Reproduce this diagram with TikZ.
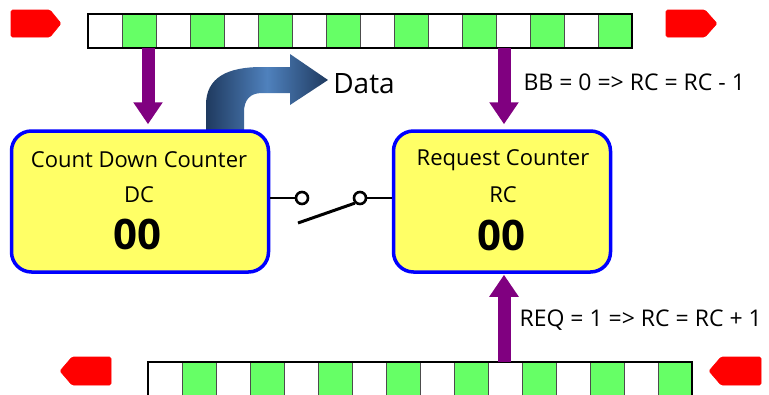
\documentclass[tikz,border=0pt]{standalone}
\usepackage{fontspec}
\setmainfont{Open Sans}
\usetikzlibrary{arrows.meta}
\definecolor{cellgreen}{HTML}{66FF66}
\definecolor{boxyellow}{HTML}{FFFF66}
\definecolor{boxblue}{HTML}{0000FF}
\definecolor{arrpurple}{HTML}{800080}
\definecolor{flagred}{HTML}{FF0000}
\definecolor{datadark}{HTML}{1F3A5F}
\definecolor{datalight}{HTML}{4F81BD}
\tikzset{
  counterbox/.style={draw=boxblue, fill=boxyellow, line width=3.5pt, rounded corners=20pt, inner sep=0pt},
  bartxt/.style={font=\fontsize{22}{26}\selectfont},
  bigtxt/.style={font=\fontsize{42}{46}\selectfont\bfseries},
  ruletxt/.style={font=\fontsize{23}{27}\selectfont, anchor=west},
  purarrow/.style={draw=arrpurple, line width=13pt, -{Triangle[width=28pt,length=22pt]}},
  wire/.style={draw=black, line width=1.6pt},
  contact/.style={circle, draw=black, line width=2.6pt, fill=white, minimum size=12pt, inner sep=0pt},
  flag/.style={fill=flagred, draw=flagred, line width=0.6pt, rounded corners=1.5pt},
}
\begin{document}
\begin{tikzpicture}[x=1pt,y=-1pt]
\useasboundingbox (0,0) rectangle (769,394);
% red flags
\fill[flag] (11,10) -- (50,10) -- (61,23.5) -- (50,37) -- (11,37) -- cycle;
\fill[flag] (666,10) -- (705,10) -- (717,23.5) -- (705,37) -- (666,37) -- cycle;
\fill[flag] (111,357) -- (72,357) -- (60,371) -- (72,385) -- (111,385) -- cycle;
\fill[flag] (761,357) -- (721,357) -- (709,371) -- (721,385) -- (761,385) -- cycle;
% bars
\foreach \i in {0,...,15}{
  \ifodd\i \def\cc{cellgreen}\else \def\cc{white}\fi
  \filldraw[fill=\cc, draw=black!70, line width=0.8pt] (88+34*\i,14) rectangle (122+34*\i,48);
  \filldraw[fill=\cc, draw=black!70, line width=0.8pt] (148+34*\i,362) rectangle (182+34*\i,396);
}
\node[draw=black, line width=2pt, minimum width=544pt, minimum height=34pt, inner sep=0pt, outer sep=0pt] (topbar) at (360,31) {};
\node[draw=black, line width=2pt, minimum width=544pt, minimum height=34pt, inner sep=0pt, outer sep=0pt] (botbar) at (420,379) {};
% data arrow
\shade[left color=datadark, right color=datadark, middle color=datalight]
  (206,131) -- (206,105) .. controls (206,77) and (228,67) .. (262,67) -- (290,67) -- (290,54) -- (328,80)
  -- (290,105) -- (290,93) -- (262,93) .. controls (250,93) and (244,100) .. (244,112) -- (244,131) -- cycle;
\node[font=\fontsize{28}{32}\selectfont] (data) at (364,84) {Data};
% boxes
\node[counterbox, minimum width=257pt, minimum height=141pt] (lbox) at (140,201.5) {};
\node[counterbox, minimum width=217pt, minimum height=141pt] (rbox) at (502,201.5) {};
\node[bartxt] (lt1) at (139,160) {Count Down Counter};
\node[bartxt] (lt2) at (139,195) {DC};
\node[bigtxt] (lt3) at (137,234) {00};
\node[bartxt] (rt1) at (503,160) {Request Counter};
\node[bartxt] (rt2) at (503,195) {RC};
\node[bigtxt] (rt3) at (501,235) {00};
% switch
\node[contact] (c1) at (302,198) {};
\node[contact] (c2) at (360,198) {};
\draw[wire] (lbox.east |- c1) -- (c1);
\draw[wire] (c2) -- (rbox.west |- c2);
\coordinate (blade) at (298,223);
\draw[black, line width=3pt] (blade) -- (c2.south west);
% purple arrows
\coordinate (a1) at (148,48);
\coordinate (a2) at (504,48);
\coordinate (a3) at (504,362);
\draw[purarrow, shorten >=5pt] (a1) -- (a1 |- lbox.north);
\draw[purarrow, shorten >=5pt] (a2) -- (a2 |- rbox.north);
\draw[purarrow, shorten >=1pt] (a3) -- (a3 |- rbox.south);
% rule texts
\node[ruletxt] (r1) at (520,82) {BB = 0 => RC = RC - 1};
\node[ruletxt] (r2) at (516,320) {REQ = 1 => RC = RC + 1};
\end{tikzpicture}
\end{document}
